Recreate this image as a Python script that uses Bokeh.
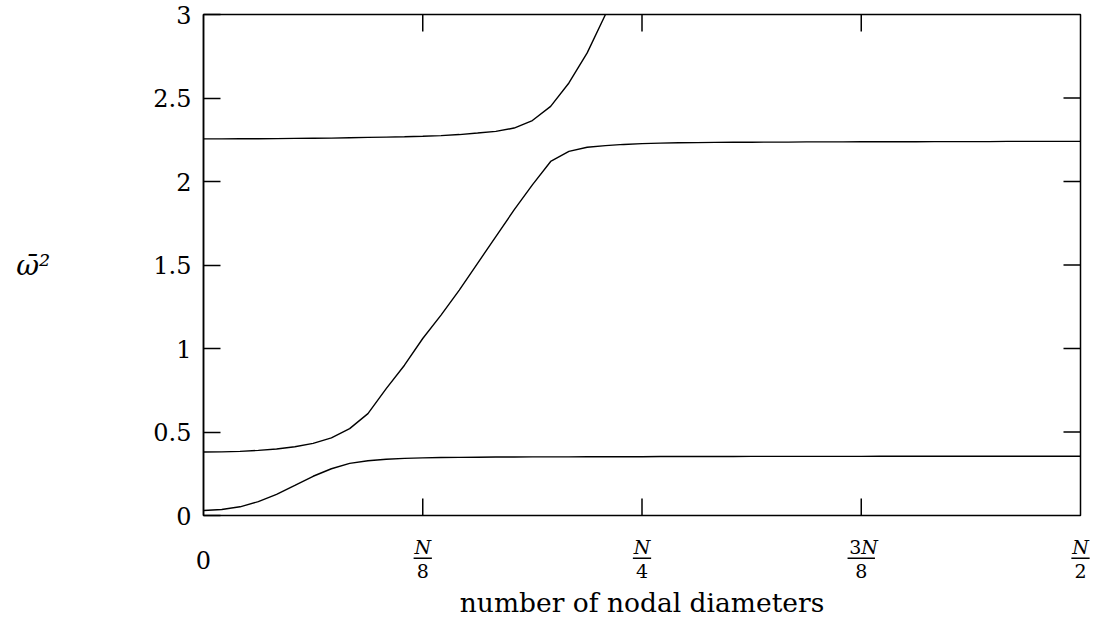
from bokeh.plotting import figure
from bokeh.models import Range1d, FixedTicker
from bokeh.core.properties import value
from bokeh.embed import file_html
from bokeh.resources import INLINE

# nodal diameter index (N = 96 blades -> 0 .. N/2)
k = list(range(0, 49))

branch_low = [0.030, 0.036, 0.052, 0.083, 0.126, 0.180, 0.235, 0.280, 0.312, 0.328,
              0.337, 0.342, 0.345, 0.347, 0.348, 0.349, 0.350, 0.350, 0.351, 0.351,
              0.351, 0.352, 0.352, 0.352, 0.352, 0.353, 0.353, 0.353, 0.353, 0.353,
              0.354, 0.354, 0.354, 0.354, 0.354, 0.354, 0.354, 0.355, 0.355, 0.355,
              0.355, 0.355, 0.355, 0.355, 0.355, 0.355, 0.355, 0.355, 0.355]

branch_mid = [0.380, 0.381, 0.384, 0.390, 0.398, 0.412, 0.432, 0.465, 0.520, 0.610,
              0.760, 0.900, 1.060, 1.200, 1.350, 1.510, 1.670, 1.830, 1.980, 2.120,
              2.180, 2.205, 2.215, 2.222, 2.227, 2.230, 2.232, 2.233, 2.234, 2.235,
              2.235, 2.236, 2.236, 2.237, 2.237, 2.237, 2.238, 2.238, 2.238, 2.238,
              2.239, 2.239, 2.239, 2.239, 2.240, 2.240, 2.240, 2.240, 2.240]

branch_top_k = list(range(0, 24))
branch_top = [2.255, 2.255, 2.256, 2.256, 2.257, 2.258, 2.259, 2.260, 2.262, 2.264,
              2.266, 2.268, 2.271, 2.275, 2.281, 2.290, 2.300, 2.320, 2.365, 2.450,
              2.590, 2.770, 3.000, 3.250]

y_ticks = [0, 0.5, 1, 1.5, 2, 2.5, 3]
y_tick_labels = ["0", "0.5", "1", "1.5", "2", "2.5", "3"]
x_ticks = [0, 12, 24, 36, 48]
x_zero_label = "0"
frac_pos = [12, 24, 36, 48]
frac_coef = ["", "", "3", ""]
frac_num = ["N", "N", "N", "N"]
frac_den = ["8", "4", "8", "2"]
x_label = "number of nodal diameters"
y_label = "ω̄²"

FONT = "DejaVu Serif"
X0, X1 = 0, 48
Y0, Y1 = 0, 3

# --- layout constants (pixels) ---
W = 1097
LEFT, RIGHT, TOP, BOTTOM = 203, 17, 14, 15
MAIN_H = 530           # frame bottom at 515
STRIP_H = 619 - MAIN_H
FRAME_W = W - LEFT - RIGHT
FRAME_H = MAIN_H - BOTTOM - TOP
TICK = 17
tick_dx = TICK * (X1 - X0) / FRAME_W
tick_dy = TICK * (Y1 - Y0) / FRAME_H

p = figure(width=W, height=MAIN_H, output_backend="svg", toolbar_location=None,
           x_range=Range1d(X0, X1), y_range=Range1d(Y0, Y1),
           min_border_left=LEFT, min_border_right=RIGHT, min_border_top=TOP,
           min_border_bottom=BOTTOM, x_axis_location=None, y_axis_label=y_label)
p.outline_line_color = "black"
p.outline_line_width = 1.5
p.xgrid.visible = False
p.ygrid.visible = False

ya = p.yaxis[0]
ya.ticker = FixedTicker(ticks=y_ticks)
ya.major_label_overrides = {t: s for t, s in zip(y_ticks, y_tick_labels)}
ya.major_tick_in = TICK
ya.major_tick_out = 0
ya.minor_tick_in = 0
ya.minor_tick_out = 0
ya.axis_line_width = 1.5
ya.major_tick_line_width = 1.5
ya.major_label_text_font = FONT
ya.major_label_text_font_size = "24px"
ya.major_label_text_color = "black"
ya.major_label_standoff = 12
ya.axis_label_orientation = "horizontal"
ya.axis_label_text_font = FONT
ya.axis_label_text_font_style = "italic"
ya.axis_label_text_font_size = "28px"
ya.axis_label_text_color = "black"
ya.axis_label_standoff = 100

# inward ticks on bottom, top and right edges
inner_x = x_ticks[1:-1]
p.segment(x0=inner_x, y0=[Y0] * len(inner_x), x1=inner_x, y1=[Y0 + tick_dy] * len(inner_x),
          line_color="black", line_width=1.5)
p.segment(x0=inner_x, y0=[Y1] * len(inner_x), x1=inner_x, y1=[Y1 - tick_dy] * len(inner_x),
          line_color="black", line_width=1.5)
inner_y = y_ticks[1:-1]
p.segment(x0=[X1] * len(inner_y), y0=inner_y, x1=[X1 - tick_dx] * len(inner_y), y1=inner_y,
          line_color="black", line_width=1.5)

p.line(k, branch_low, line_color="black", line_width=1.4)
p.line(k, branch_mid, line_color="black", line_width=1.4)
p.line(branch_top_k, branch_top, line_color="black", line_width=1.4)

# --- strip below the frame: x tick labels (fractions) and x axis label ---
px_per = FRAME_W / (X1 - X0)
s = figure(width=W, height=STRIP_H, output_backend="svg", toolbar_location=None,
           x_range=Range1d(X0 - LEFT / px_per, X1 + RIGHT / px_per),
           y_range=Range1d(STRIP_H, 0),
           min_border_left=0, min_border_right=0, min_border_top=0, min_border_bottom=0,
           x_axis_location=None, y_axis_location=None)
s.outline_line_color = None
s.xgrid.visible = False
s.ygrid.visible = False

NUM_Y, BAR_Y, DEN_Y, ZERO_Y, LAB_Y = 16.5, 27.7, 40, 29, 71.5

s.text(x=[X0], y=[ZERO_Y], text=[x_zero_label], text_font=value(FONT), text_font_size="24px",
       text_align="center", text_baseline="middle", text_color="black")

for xp, c, n, d in zip(frac_pos, frac_coef, frac_num, frac_den):
    if c:
        s.text(x=[xp], y=[NUM_Y], text=[c], text_font=value(FONT), text_font_size="19px",
               text_align="right", text_baseline="middle", text_color="black")
        s.text(x=[xp], y=[NUM_Y], text=[n], text_font=value(FONT), text_font_size="19px",
               text_font_style="italic", text_align="left", text_baseline="middle",
               text_color="black")
        half = 0.75
    else:
        s.text(x=[xp], y=[NUM_Y], text=[n], text_font=value(FONT), text_font_size="19px",
               text_font_style="italic", text_align="center", text_baseline="middle",
               text_color="black")
        half = 0.5
    s.segment(x0=[xp - half], y0=[BAR_Y], x1=[xp + half], y1=[BAR_Y],
              line_color="black", line_width=1.5)
    s.text(x=[xp], y=[DEN_Y], text=[d], text_font=value(FONT), text_font_size="19px",
           text_align="center", text_baseline="middle", text_color="black")

s.text(x=[(X0 + X1) / 2], y=[LAB_Y], text=[x_label], text_font=value(FONT),
       text_font_size="26.5px", text_align="center", text_baseline="middle", text_color="black")

open("out.html", "w").write(file_html([p, s], INLINE))
